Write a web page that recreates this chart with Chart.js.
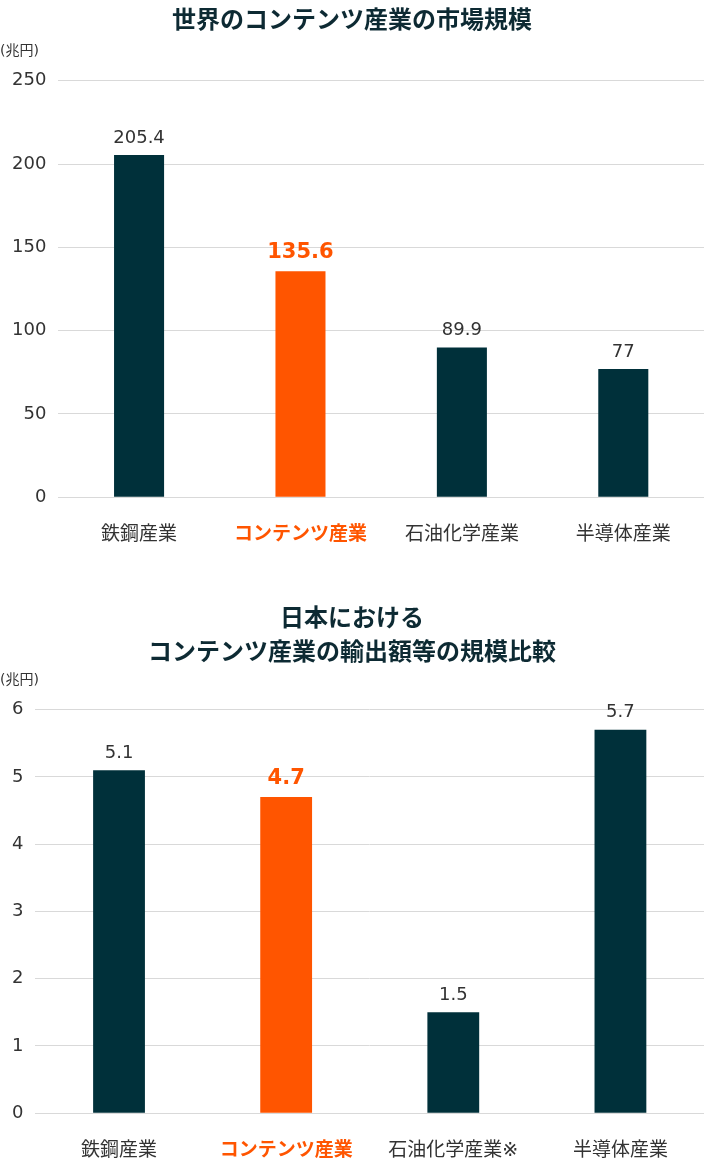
<!DOCTYPE html>
<html><head><meta charset="utf-8">
<script src="https://cdn.jsdelivr.net/npm/chart.js@4"></script>
<style>
body{margin:0;background:#fff;}
.box{position:relative;width:704px;}
</style></head>
<body>
<div class="box" style="height:580px"><canvas id="c1"></canvas></div>
<div class="box" style="height:600px"><canvas id="c2"></canvas></div>
<script>
const categories = ["鉄鋼産業", "コンテンツ産業", "石油化学産業", "半導体産業"];
const categories2 = ["鉄鋼産業", "コンテンツ産業", "石油化学産業※", "半導体産業"];
const worldMarket = [205.4, 135.6, 89.9, 77];
const japanExport = [5.1, 4.7, 1.5, 5.7];
const DARK = "#00303a", ORANGE = "#ff5500";
const JP = "'DejaVu Sans','Noto Sans CJK JP'";

const labelPlugin = {
    id: 'labels',
    afterDatasetsDraw(chart) {
        const ctx = chart.ctx;
        const meta = chart.getDatasetMeta(0);
        ctx.save();
        ctx.textAlign = 'center';
        ctx.textBaseline = 'bottom';
        meta.data.forEach((bar, i) => {
            const v = chart.data.datasets[0].data[i];
            if (i === 1) { ctx.fillStyle = ORANGE; ctx.font = "bold 21px " + JP; }
            else { ctx.fillStyle = "#333"; ctx.font = "18px " + JP; }
            ctx.fillText(String(v), bar.x, bar.y - 8);
        });
        const y = chart.scales.y;
        ctx.fillStyle = "#333";
        ctx.textAlign = 'left';
        ctx.font = "14px " + JP;
        ctx.fillText("(兆円)", 0, y.top - 22);
        ctx.restore();
    }
};

function drawChart(canvas, labels, data, params) {
    const ctx = document.getElementById(canvas).getContext('2d');
    return new Chart(ctx, {
        type: 'bar',
        data: {
            labels: labels,
            datasets: [{
                data: data,
                backgroundColor: data.map((v, i) => i === 1 ? ORANGE : DARK),
                barPercentage: 0.31,
                categoryPercentage: 1
            }]
        },
        options: {
            responsive: true,
            maintainAspectRatio: false,
            animation: false,
            layout: {padding: {top: 0, right: 0, left: 0, bottom: params.padBottom}},
            scales: {
                y: {
                    min: 0, max: params.max,
                    ticks: {stepSize: params.step, color: "#333", font: {size: 18, family: JP}, padding: 12},
                    grid: {color: "#d9d9d9", drawTicks: false},
                    border: {display: false}
                },
                x: {
                    ticks: {
                        color: (c) => c.index === 1 ? ORANGE : "#333",
                        font: (c) => c.index === 1 ? {size: 19, weight: 'bold', family: JP} : {size: 19, family: JP},
                        padding: 18
                    },
                    grid: {display: false},
                    border: {color: "#d9d9d9"}
                }
            },
            plugins: {
                legend: {display: false},
                tooltip: {enabled: false},
                title: {
                    display: true,
                    text: params.title,
                    color: "#0d2a33",
                    font: {size: 24, weight: 'bold', family: JP, lineHeight: 1.45},
                    padding: {top: params.titleTop, bottom: params.titlePad}
                }
            }
        },
        plugins: [labelPlugin]
    });
}

drawChart('c1', categories, worldMarket, {title: "世界のコンテンツ産業の市場規模", max: 250, step: 50, padBottom: 16, titleTop: 4, titlePad: 42});
drawChart('c2', categories2, japanExport, {title: ["日本における", "コンテンツ産業の輸出額等の規模比較"], max: 6, step: 1, padBottom: 0, titleTop: 22, titlePad: 38});
</script>
</body></html>
